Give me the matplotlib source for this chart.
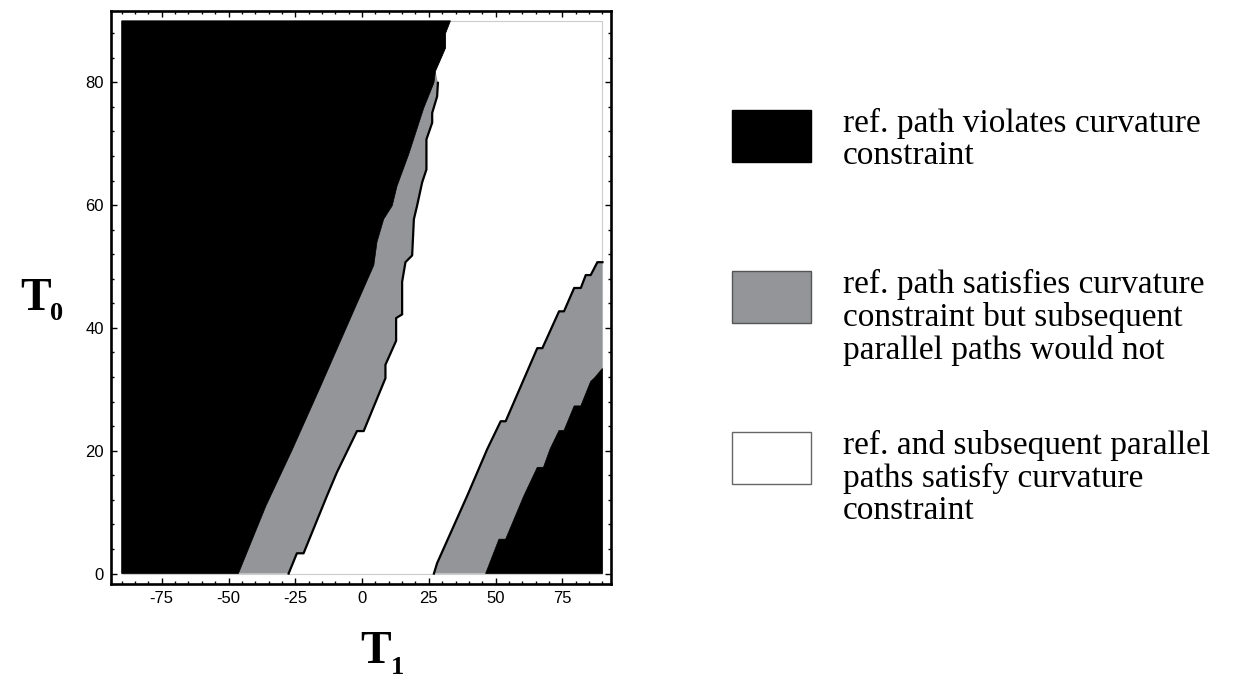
import numpy as np
import matplotlib.pyplot as plt
from matplotlib.patches import Rectangle

plt.rcParams['axes.unicode_minus'] = False

W, H = 1258, 688

# region boundaries, as (T1, T0) vertices
# black | gray on the left
a_t1 = [-46.3, -36.0, -26.3, -16.0, -4.4, 4.4, 5.6, 8.1, 11.3, 13.1, 17.5, 23.1, 26.9]
a_t0 = [0.0, 11.0, 20.0, 30.0, 41.5, 50.2, 54.0, 57.7, 59.9, 63.1, 68.3, 75.8, 79.9]
# black | white at the top
top_t1 = [26.9, 27.5, 31.3, 31.3, 33.1]
top_t0 = [79.9, 81.8, 85.6, 88.0, 90.0]
# gray | white on the left (outlined)
b_t1 = [-27.5, -24.4, -21.9, -13.1, -9.4, -1.9, 0.6, 8.75, 8.75, 12.75, 12.75, 15.0, 15.0,
        15.0, 16.25, 18.75, 19.4, 20.6, 22.5, 24.1, 24.1, 26.25, 26.25, 28.1, 28.4]
b_t0 = [0.0, 3.3, 3.3, 12.7, 16.5, 23.2, 23.2, 31.8, 34.0, 37.9, 41.6, 42.2, 44.9,
        47.5, 50.7, 51.8, 57.7, 59.9, 63.7, 65.8, 70.7, 73.4, 75.0, 77.7, 79.9]
# white | gray on the right (outlined)
c_t1 = [26.9, 28.1, 39.4, 46.9, 51.9, 53.75, 65.6, 67.5, 73.75, 75.6, 79.4, 81.9, 83.75,
        85.6, 88.1, 90.0]
c_t0 = [0.0, 1.7, 12.7, 20.3, 24.8, 24.8, 36.7, 36.7, 42.7, 42.7, 46.5, 46.5, 48.6,
        48.6, 50.7, 50.7]
# gray | black on the right
d_t1 = [46.25, 51.25, 53.75, 60.6, 65.6, 67.9, 70.4, 73.75, 75.6, 79.4, 81.9, 85.6, 86.9, 90.0]
d_t0 = [0.0, 5.6, 5.6, 12.7, 17.3, 17.3, 20.3, 23.3, 23.3, 27.3, 27.3, 31.3, 31.8, 33.4]

colors = ['black', '#939598', 'white']
legend_labels = ['ref. path violates curvature\nconstraint',
                 'ref. path satisfies curvature\nconstraint but subsequent\nparallel paths would not',
                 'ref. and subsequent parallel\npaths satisfy curvature\nconstraint']

fig = plt.figure(figsize=(W / 100, H / 100), dpi=100)
ax = fig.add_axes([111 / W, 1 - 584 / H, 500 / W, 573 / H])

# outline of the plotted region
ax.add_patch(Rectangle((-90, 0), 180, 90, fill=False, edgecolor='#cccccc', lw=0.8, zorder=1))

gray_left = np.column_stack([[-90] + b_t1 + top_t1[1:] + [-90], [0] + b_t0 + top_t0[1:] + [90]])
black_left = np.column_stack([[-90] + a_t1 + top_t1[1:] + [-90], [0] + a_t0 + top_t0[1:] + [90]])
gray_right = np.column_stack([c_t1 + [90], c_t0 + [0]])
black_right = np.column_stack([d_t1 + [90], d_t0 + [0]])

ax.fill(gray_left[:, 0], gray_left[:, 1], color=colors[1], lw=0, zorder=2)
ax.fill(black_left[:, 0], black_left[:, 1], color=colors[0], lw=0.5, ec='black', zorder=3)
ax.fill(gray_right[:, 0], gray_right[:, 1], color=colors[1], lw=0, zorder=2)
ax.fill(black_right[:, 0], black_right[:, 1], color=colors[0], lw=0.5, ec='black', zorder=3)
ax.plot(b_t1, b_t0, color='black', lw=1.6, zorder=4, solid_joinstyle='round')
ax.plot(c_t1, c_t0, color='black', lw=1.6, zorder=4, solid_joinstyle='round')

ax.set_xlim(-94, 93.2)
ax.set_ylim(-1.7, 91.6)
ax.set_xticks([-75, -50, -25, 0, 25, 50, 75])
ax.set_xticks(np.arange(-90, 91, 5), minor=True)
ax.set_yticks([0, 20, 40, 60, 80])
ax.set_yticks(np.arange(0, 91, 4), minor=True)
for s in ax.spines.values():
    s.set_linewidth(1.9)
ax.tick_params(which='both', direction='in', top=True, right=True, width=1.0,
               labelsize=12, pad=5)
ax.tick_params(which='major', length=4)
ax.tick_params(which='minor', length=2.5)
for lab in ax.get_xticklabels() + ax.get_yticklabels():
    lab.set_fontfamily('Liberation Sans')

# axis labels T1 / T0
serif = 'Liberation Serif'
fig.text(360 / W, 1 - 663 / H, 'T', family=serif, weight='bold', fontsize=33, va='baseline')
fig.text(391 / W, 1 - 674 / H, '1', family=serif, weight='bold', fontsize=19, va='baseline')
fig.text(20 / W, 1 - 310 / H, 'T', family=serif, weight='bold', fontsize=33, va='baseline')
fig.text(50 / W, 1 - 320 / H, '0', family=serif, weight='bold', fontsize=19, va='baseline')

# legend boxes
box_tops = [110, 271, 432]
edge_cols = ['black', '#555555', '#666666']
for top, col, ec, lab in zip(box_tops, colors, edge_cols, legend_labels):
    fig.add_artist(Rectangle((732 / W, 1 - (top + 52) / H), 79 / W, 52 / H,
                             transform=fig.transFigure, facecolor=col, edgecolor=ec, lw=1))
    fig.text(843 / W, 1 - (top - 2) / H, lab, family=serif, fontsize=24, va='top', ha='left',
             linespacing=1.08)

fig.savefig('out.png', dpi=100)
